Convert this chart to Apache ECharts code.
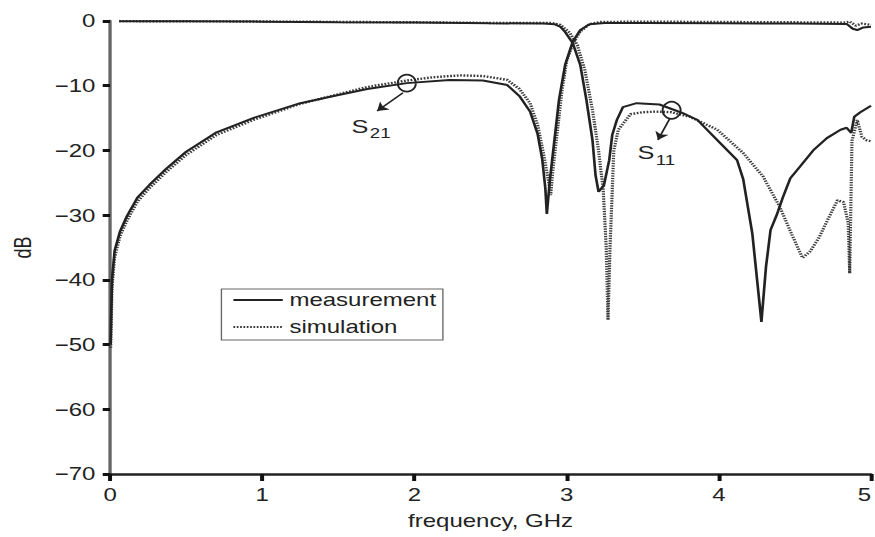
<!DOCTYPE html>
<html><head><meta charset="utf-8">
<script src="https://cdn.jsdelivr.net/npm/echarts/dist/echarts.min.js"></script>
<style>
html,body{margin:0;padding:0;background:#fff;overflow:hidden}
#wrap{width:875px;height:537px;overflow:hidden;position:relative}
#c{width:656px;height:537px;transform:scaleX(1.33384);transform-origin:0 0}
</style>
</head><body><div id="wrap"><div id="c"></div></div>
<script>
// [frequency GHz, dB]
const s21Measured = [[0.004,-50],[0.013,-40],[0.03,-35.5],[0.066,-32.5],[0.11,-30.2],[0.18,-27.3],[0.26,-25.3],[0.37,-22.8],[0.5,-20.2],[0.7,-17.2],[0.94,-15.0],[1.25,-12.7],[1.47,-11.6],[1.69,-10.5],[1.95,-9.6],[2.23,-9.1],[2.45,-9.2],[2.61,-9.9],[2.69,-11.6],[2.76,-14.0],[2.81,-17.5],[2.84,-21.4],[2.86,-25.8],[2.87,-29.8],[2.89,-24.6],[2.92,-18.4],[2.95,-12.2],[2.99,-6.8],[3.04,-3.2],[3.09,-1.4],[3.15,-0.5],[3.25,-0.3],[3.5,-0.3],[4.0,-0.35],[4.5,-0.4],[4.84,-0.45],[4.88,-1.2],[4.91,-1.4],[4.95,-1.0],[5.0,-0.9]];
const s21Simulated = [[0.004,-50.5],[0.013,-41],[0.03,-36.5],[0.066,-33.2],[0.11,-30.9],[0.18,-27.9],[0.26,-25.8],[0.37,-23.3],[0.5,-20.7],[0.7,-17.6],[0.94,-15.3],[1.25,-12.8],[1.47,-11.5],[1.69,-10.2],[1.95,-9.2],[2.12,-8.7],[2.3,-8.4],[2.45,-8.5],[2.61,-9.1],[2.69,-10.5],[2.76,-12.7],[2.81,-16.1],[2.85,-20.7],[2.88,-24.6],[2.895,-26.9],[2.91,-23],[2.94,-16.8],[2.97,-10.7],[3.0,-6.2],[3.04,-3.6],[3.09,-1.6],[3.15,-0.5],[3.22,-0.15],[3.5,-0.1],[4.0,-0.15],[4.5,-0.2],[4.82,-0.25],[4.86,-0.1],[4.9,-0.7],[4.94,-0.4],[5.0,-0.6]];
const s11Measured = [[0.06,-0.02],[0.5,-0.05],[1.0,-0.1],[1.5,-0.2],[2.0,-0.25],[2.5,-0.35],[2.85,-0.4],[2.92,-0.5],[2.96,-0.9],[2.99,-1.7],[3.04,-3.4],[3.09,-6.8],[3.13,-12.2],[3.17,-18.4],[3.19,-23.8],[3.21,-26.4],[3.245,-25.4],[3.28,-21.5],[3.30,-17.6],[3.33,-15.3],[3.37,-13.3],[3.46,-12.7],[3.61,-12.9],[3.69,-13.6],[3.76,-14.2],[3.86,-15.3],[3.99,-18.4],[4.12,-21.5],[4.16,-24.4],[4.22,-32.8],[4.28,-46.5],[4.31,-38],[4.34,-32.3],[4.38,-30.0],[4.42,-27.3],[4.47,-24.3],[4.53,-22.6],[4.62,-20],[4.71,-18.1],[4.80,-16.8],[4.84,-16.5],[4.87,-17.3],[4.89,-14.8],[4.93,-14.1],[5.0,-13.1]];
const s11Simulated = [[0.06,-0.02],[1.0,-0.08],[2.0,-0.2],[2.5,-0.3],[2.9,-0.3],[2.96,-0.6],[3.02,-1.8],[3.07,-3.7],[3.12,-7.6],[3.17,-13.8],[3.21,-20],[3.24,-26],[3.26,-35],[3.272,-46.2],[3.285,-35],[3.30,-26],[3.31,-20],[3.34,-16.8],[3.42,-14.4],[3.5,-14.1],[3.59,-14.0],[3.69,-14.1],[3.81,-14.8],[3.99,-16.8],[4.16,-20.4],[4.29,-24],[4.40,-28.7],[4.48,-33],[4.55,-36.6],[4.60,-35.6],[4.66,-33.4],[4.72,-30.5],[4.78,-27.7],[4.82,-28],[4.85,-31.2],[4.86,-39],[4.875,-18.5],[4.91,-15.3],[4.94,-17.9],[4.97,-18.4],[5.0,-18.6]];
const legendNames = ['measurement','simulation'];
const xTicks = {min:0, max:5, step:1};
const yTicks = {min:-70, max:0, step:10};
// annotation anchors (data space)
const s21Marker = {circle:[1.95,-9.6], arrowFrom:[1.925,-11.1], arrowTo:[1.755,-13.9], text:[1.715,-16.3], sub:'21'};
const s11Marker = {circle:[3.69,-13.8], arrowFrom:[3.68,-15.0], arrowTo:[3.60,-18.4], text:[3.59,-20.4], sub:'11'};

const FONT = "'Liberation Sans', Arial, Helvetica, sans-serif";
const INK = '#222';

function annot(m){
  return {
    markPoint:{
      silent:true, animation:false,
      data:[
        {coord:m.circle, symbol:'circle', symbolSize:[13.5,17],
         itemStyle:{color:'rgba(0,0,0,0)', borderColor:INK, borderWidth:1.6}, label:{show:false}},
        {coord:m.text, symbol:'rect', symbolSize:1, itemStyle:{color:'rgba(0,0,0,0)'},
         label:{show:true, position:'inside', formatter:'{s|S}{sub|'+m.sub+'}',
           rich:{
             s:{fontSize:19, lineHeight:19, verticalAlign:'top', color:INK, fontFamily:FONT},
             sub:{fontSize:14, lineHeight:14, verticalAlign:'top', padding:[9,0,0,1], color:INK, fontFamily:FONT}
           }}}
      ]
    },
    markLine:{
      silent:true, animation:false, symbol:['none','arrow'], symbolSize:8,
      lineStyle:{color:INK, width:1.4, type:'solid'}, label:{show:false},
      data:[[{coord:m.arrowFrom},{coord:m.arrowTo}]]
    }
  };
}

const solid = {color:INK, width:2};
const dotted = {color:'#3a3a3a', width:2.4, type:[1.3,1.2]};

const chart = echarts.init(document.getElementById('c'), null, {renderer:'svg'});
chart.setOption({
  animation:false,
  backgroundColor:'#fff',
  grid:{left:82.5, right:3, top:21, bottom:63, containLabel:false, outerBoundsMode:'none'},
  legend:{
    data:legendNames, orient:'vertical', left:166, top:289,
    itemWidth:37, itemHeight:14, itemGap:9, padding:[2,5,4,8],
    borderColor:'#666', borderWidth:1, borderRadius:0,
    backgroundColor:'#fff',
    itemStyle:{color:'rgba(0,0,0,0)', borderWidth:0, opacity:0},
    textStyle:{fontSize:18, fontFamily:FONT, color:INK},
    selectedMode:false
  },
  xAxis:{
    type:'value', min:xTicks.min, max:xTicks.max, interval:xTicks.step,
    name:'frequency, GHz', nameLocation:'middle', nameGap:38,
    nameTextStyle:{fontSize:18, fontFamily:FONT, color:INK},
    axisLine:{show:true, onZero:false, lineStyle:{color:INK, width:2.5}},
    axisTick:{show:true, length:7, lineStyle:{color:'#111', width:3}},
    axisLabel:{fontSize:18, fontFamily:FONT, color:INK, margin:12, alignMaxLabel:'right'},
    splitLine:{show:false}
  },
  yAxis:{
    type:'value', min:yTicks.min, max:yTicks.max, interval:yTicks.step,
    name:'dB', nameLocation:'middle', nameGap:57,
    nameTextStyle:{fontSize:18, fontFamily:FONT, color:INK},
    axisLine:{show:true, onZero:false, lineStyle:{color:'#666', width:2.5}},
    axisTick:{show:true, length:5.5, lineStyle:{color:'#111', width:3}},
    axisLabel:{fontSize:18, fontFamily:FONT, color:INK, margin:11,
      formatter:v => v === 0 ? '0' : '\u2212' + Math.abs(v)},
    splitLine:{show:false}
  },
  series:[
    {name:'simulation', type:'line', data:s21Simulated, symbol:'none', showSymbol:false, lineStyle:dotted, itemStyle:{color:'#3a3a3a'}, z:2},
    {name:'simulation', type:'line', data:s11Simulated, symbol:'none', showSymbol:false, lineStyle:dotted, itemStyle:{color:'#3a3a3a'}, z:2},
    Object.assign({name:'measurement', type:'line', data:s21Measured, symbol:'none', showSymbol:false, lineStyle:solid, itemStyle:{color:INK}, z:3}, annot(s21Marker)),
    Object.assign({name:'measurement', type:'line', data:s11Measured, symbol:'none', showSymbol:false, lineStyle:solid, itemStyle:{color:INK}, z:3}, annot(s11Marker))
  ]
});
</script>
</body></html>
